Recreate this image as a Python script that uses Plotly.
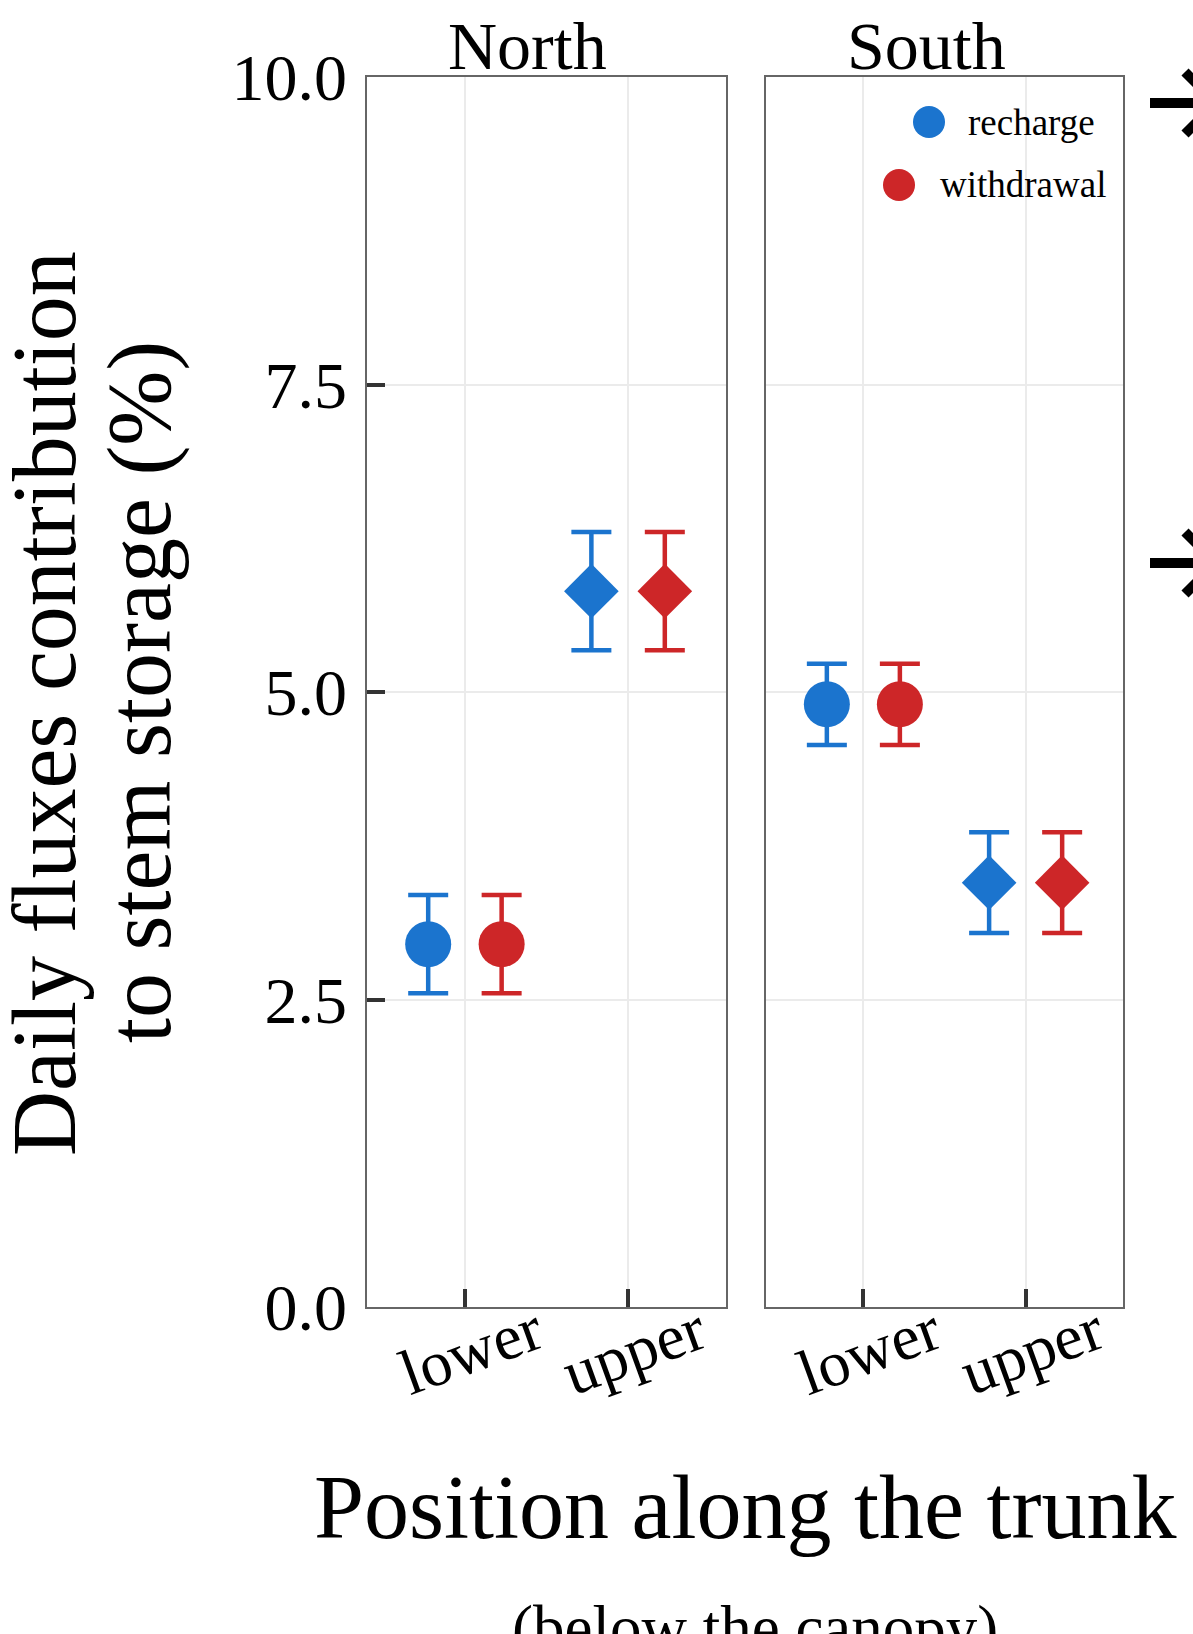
import plotly.graph_objects as go

# ---- data -------------------------------------------------------------
positions = ["lower", "upper"]
sites = ["North", "South"]

recharge_north = [2.95, 5.82]
recharge_north_se = [0.40, 0.48]
withdrawal_north = [2.95, 5.82]
withdrawal_north_se = [0.40, 0.48]

recharge_south = [4.90, 3.45]
recharge_south_se = [0.33, 0.41]
withdrawal_south = [4.90, 3.45]
withdrawal_south_se = [0.33, 0.41]

y_ticks = [0, 2.5, 5, 7.5, 10]

# ---- styling ----------------------------------------------------------
W, H = 1193, 1634
FONT = "Liberation Serif"
BLUE = "#1B74CE"
RED = "#CD2628"
DODGE = 0.225
SYMBOLS = ["circle", "diamond"]
SIZES = [46, 42]


def px(x):
    return x / W


def py(y):
    return 1 - y / H


fig = go.Figure()

panels = [
    ("x", "y", recharge_north, recharge_north_se, withdrawal_north, withdrawal_north_se),
    ("x2", "y2", recharge_south, recharge_south_se, withdrawal_south, withdrawal_south_se),
]

for xa, ya, rec, rec_se, wd, wd_se in panels:
    for vals, se, color, off, name in [
        (rec, rec_se, BLUE, -DODGE, "recharge"),
        (wd, wd_se, RED, DODGE, "withdrawal"),
    ]:
        fig.add_trace(go.Scatter(
            x=[i + off for i in range(len(positions))],
            y=vals,
            mode="markers",
            name=name,
            marker=dict(symbol=SYMBOLS, size=SIZES, color=color, opacity=1,
                        line=dict(width=0)),
            error_y=dict(type="data", array=se, visible=True, thickness=4.5,
                         width=20, color=color),
            xaxis=xa, yaxis=ya, showlegend=False,
        ))

common_x = dict(
    range=[-0.6, 1.6], tickvals=list(range(len(positions))), showticklabels=False,
    ticks="inside", ticklen=18, tickwidth=4, tickcolor="#333333",
    showgrid=True, gridcolor="#EBEBEB", gridwidth=2,
    showline=True, mirror=True, linecolor="#666666", linewidth=1.5,
    zeroline=False, fixedrange=True, automargin=False,
)
common_y = dict(
    range=[0, 10], tickvals=y_ticks,
    showgrid=True, gridcolor="#EBEBEB", gridwidth=2,
    showline=True, mirror=True, linecolor="#666666", linewidth=1.5,
    zeroline=False, fixedrange=True, automargin=False,
)

y_dom = [py(1307), py(77)]
fig.update_layout(
    width=W, height=H,
    margin=dict(l=0, r=0, t=0, b=0, pad=0),
    paper_bgcolor="white", plot_bgcolor="white",
    font=dict(family=FONT, color="black"),
    xaxis=dict(domain=[px(367), px(726)], anchor="y", **common_x),
    xaxis2=dict(domain=[px(766), px(1123)], anchor="y2", **common_x),
    yaxis=dict(domain=y_dom, anchor="x", ticks="inside", ticklen=18, tickwidth=4,
               tickcolor="#333333", tickformat=".1f", ticklabelstandoff=5,
               tickfont=dict(family=FONT, size=66, color="black"), **common_y),
    yaxis2=dict(domain=y_dom, anchor="x2", ticks="", showticklabels=False, **common_y),
)

ann = []

# rotated category labels under each panel
for xa in ["x", "x2"]:
    for i, lab in enumerate(positions):
        ann.append(dict(x=i, xref=xa, xshift=6, y=py(1350), yref="paper",
                        text=lab, textangle=-20, showarrow=False,
                        xanchor="center", yanchor="middle",
                        font=dict(family=FONT, size=64, color="black")))

# panel strip titles
for site, cx in zip(sites, [527, 926]):
    ann.append(dict(x=px(cx), y=py(46), xref="paper", yref="paper", text=site,
                    showarrow=False, xanchor="center", yanchor="middle",
                    font=dict(family=FONT, size=68, color="black")))

# axis titles
ann.append(dict(x=px(44), y=py(704), xref="paper", yref="paper",
                text="Daily fluxes contribution", textangle=-90, showarrow=False,
                xanchor="center", yanchor="middle",
                font=dict(family=FONT, size=90, color="black")))
ann.append(dict(x=px(140), y=py(692), xref="paper", yref="paper",
                text="to stem storage (%)", textangle=-90, showarrow=False,
                xanchor="center", yanchor="middle",
                font=dict(family=FONT, size=90, color="black")))
ann.append(dict(x=px(745), y=py(1507), xref="paper", yref="paper",
                text="Position along the trunk", showarrow=False,
                xanchor="center", yanchor="middle",
                font=dict(family=FONT, size=90, color="black")))
ann.append(dict(x=px(755), y=py(1628), xref="paper", yref="paper",
                text="(below the canopy)", showarrow=False,
                xanchor="center", yanchor="middle",
                font=dict(family=FONT, size=63, color="black")))

# legend entries (right-justified block inside the South panel)
shapes = []
for name, color, cx, cy, tx in [("recharge", BLUE, 929, 122, 966),
                                ("withdrawal", RED, 899, 185, 938)]:
    shapes.append(dict(type="circle", xref="paper", yref="paper",
                       x0=px(cx - 16), x1=px(cx + 16), y0=py(cy + 16), y1=py(cy - 16),
                       fillcolor=color, line=dict(width=0)))
    ann.append(dict(x=px(tx), y=py(cy), xref="paper", yref="paper", text=name,
                    showarrow=False, xanchor="left", yanchor="middle",
                    font=dict(family=FONT, size=37, color="black")))

# arrows at the right edge
for ay in [103, 563]:
    shapes.append(dict(type="line", xref="paper", yref="paper",
                       x0=px(1150), x1=px(1216), y0=py(ay), y1=py(ay),
                       line=dict(color="black", width=10)))
    path = "M {},{} L {},{} L {},{}".format(
        px(1185), py(ay - 31), px(1216), py(ay), px(1185), py(ay + 31))
    shapes.append(dict(type="path", xref="paper", yref="paper", path=path,
                       line=dict(color="black", width=10)))

fig.update_layout(annotations=ann, shapes=shapes)

fig.write_html("out.html")
